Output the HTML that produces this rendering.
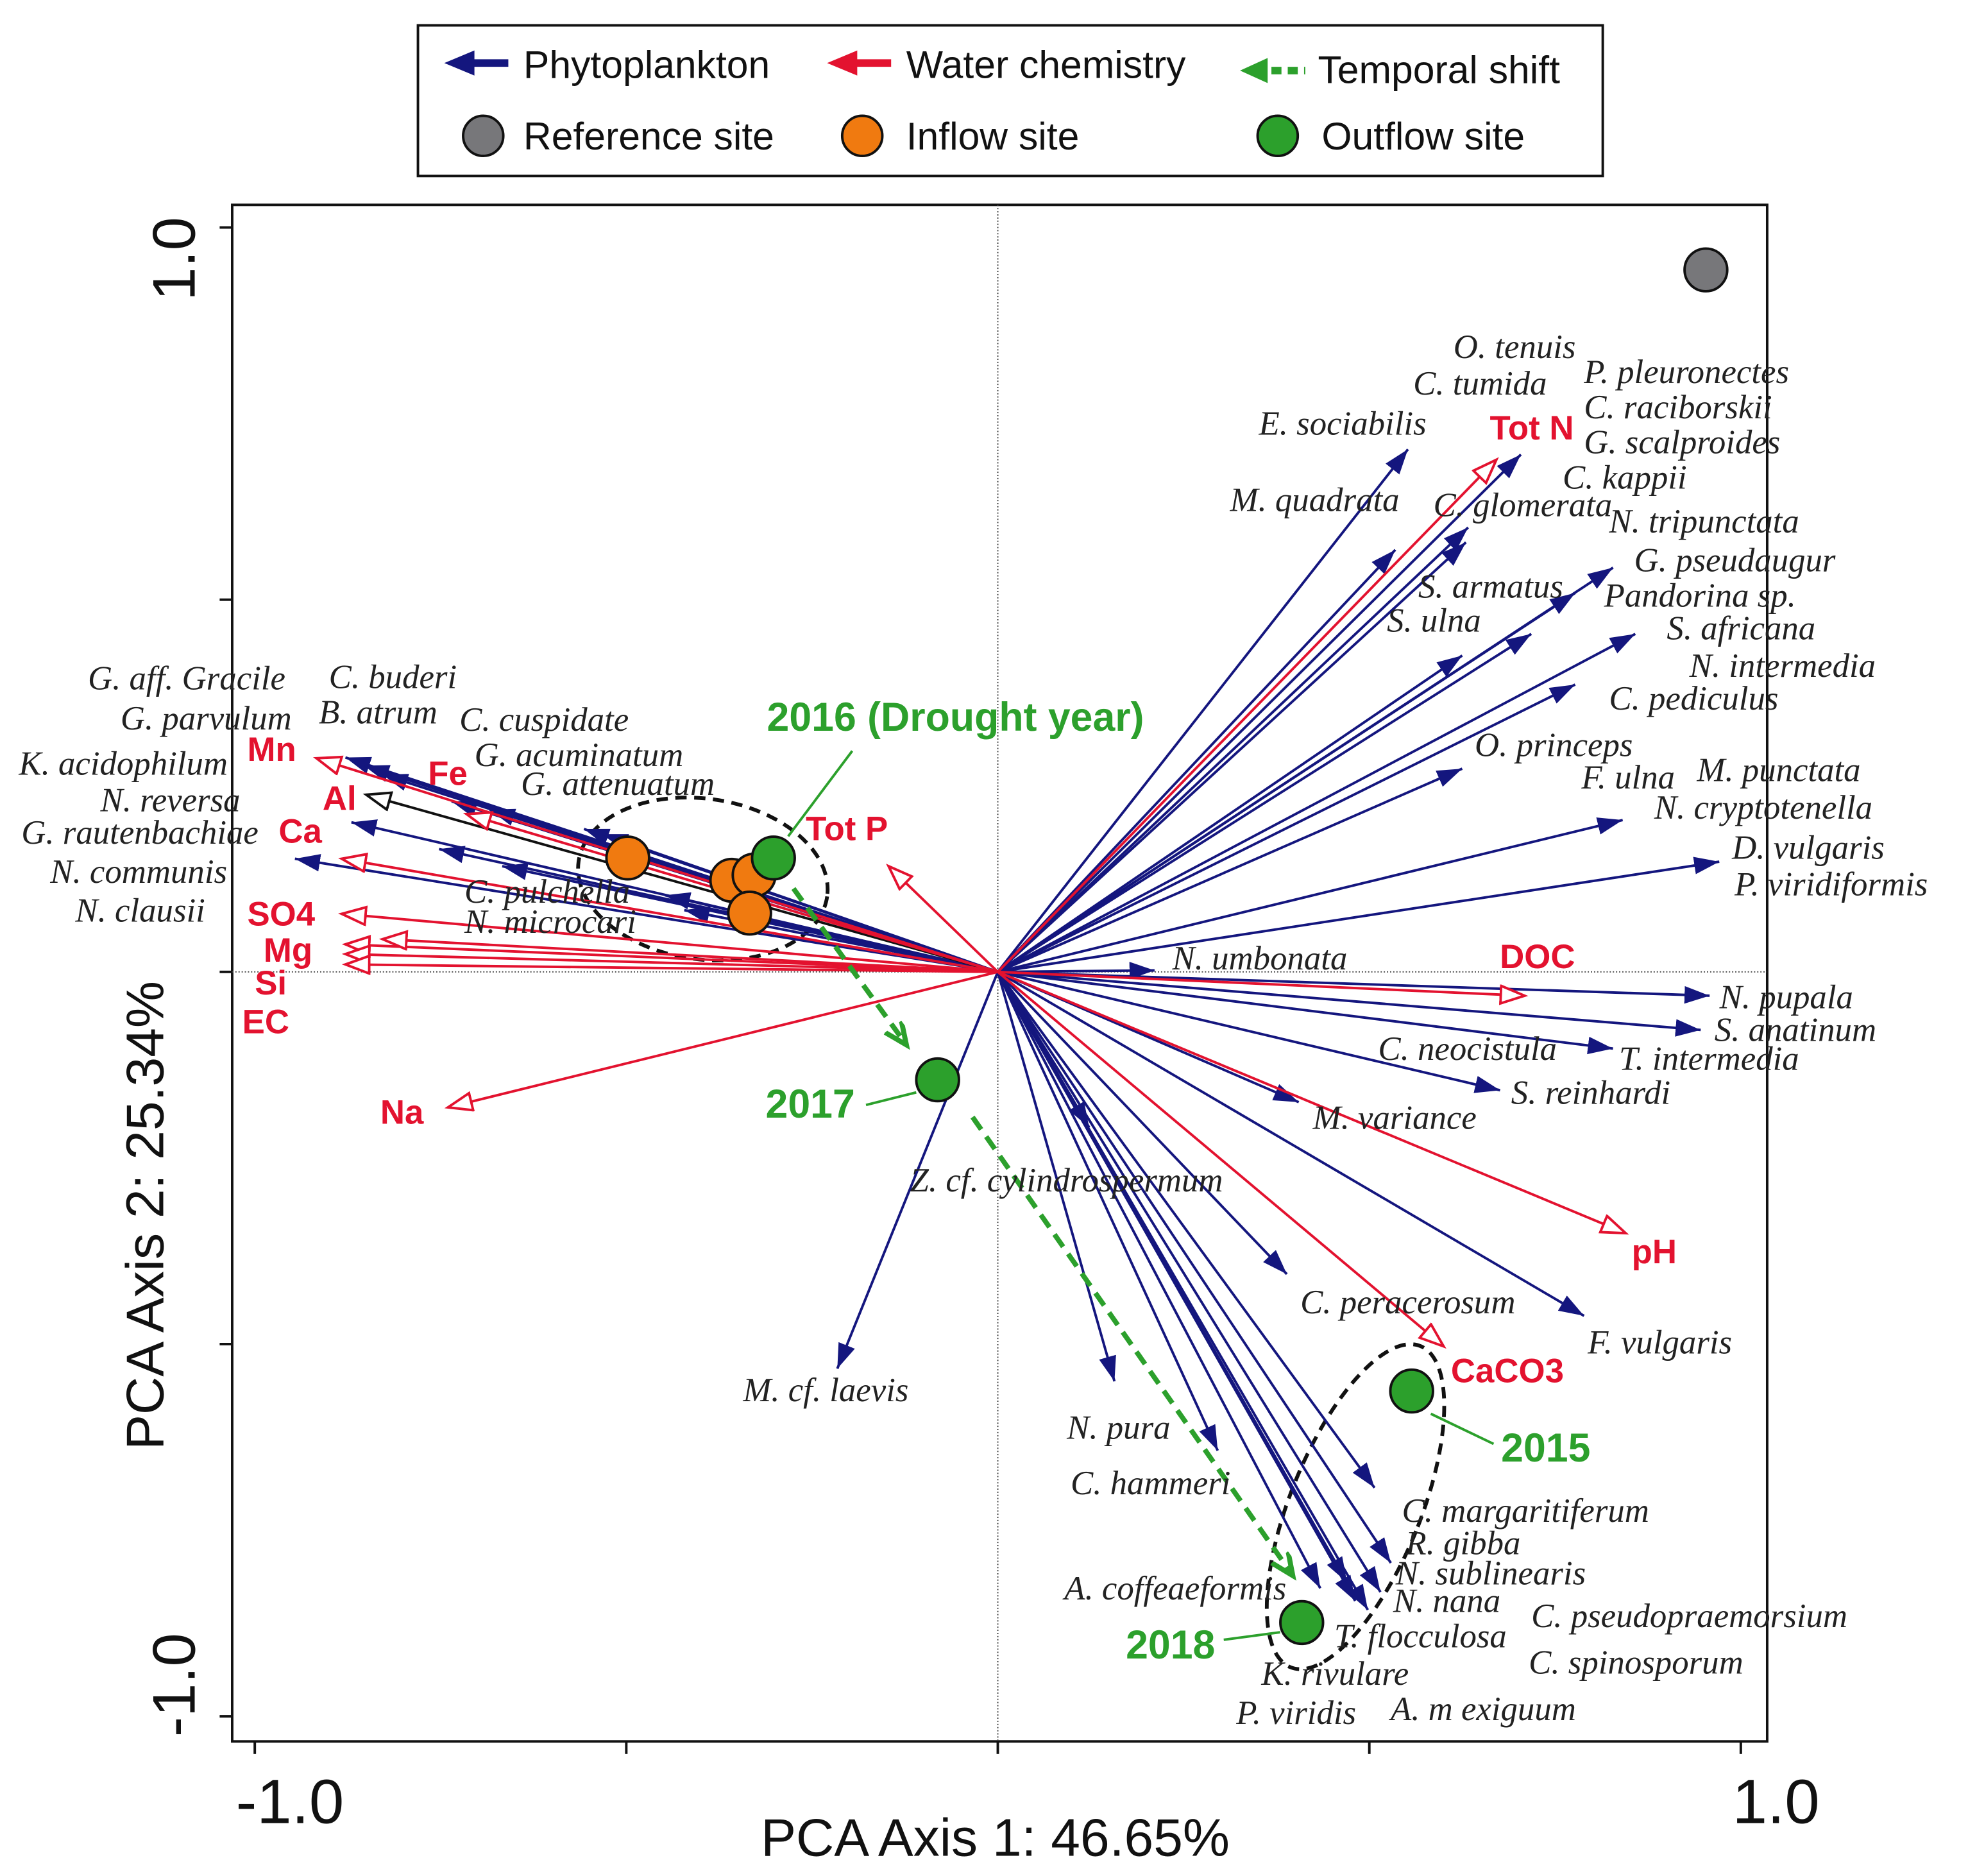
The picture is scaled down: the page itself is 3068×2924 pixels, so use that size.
<!DOCTYPE html>
<html><head><meta charset="utf-8"><style>
html,body{margin:0;padding:0;background:#fff}
svg{display:block}
.sp{font-family:"Liberation Serif",serif;font-style:italic;font-size:27px;fill:#222}
.env{font-family:"Liberation Sans",sans-serif;font-weight:bold;font-size:27px;fill:#e3122f}
.yr{font-family:"Liberation Sans",sans-serif;font-weight:bold;font-size:32px;fill:#2ca02c}
.lg{font-family:"Liberation Sans",sans-serif;font-size:31px;fill:#111}
</style></head><body>
<svg id="chart" width="3068" height="2924" viewBox="0 0 1568 1494" xmlns="http://www.w3.org/2000/svg">
<defs>
<marker id="mb" markerUnits="userSpaceOnUse" markerWidth="22" markerHeight="16" refX="20" refY="7" orient="auto"><path d="M0,0 L20,7 L0,14 Z" fill="#14167e"/></marker>
<marker id="mr" markerUnits="userSpaceOnUse" markerWidth="24" markerHeight="18" refX="20" refY="8" orient="auto"><path d="M1,1 L20,8 L1,15 Z" fill="#fff" stroke="#e3122f" stroke-width="2"/></marker>
<marker id="mk" markerUnits="userSpaceOnUse" markerWidth="24" markerHeight="18" refX="20" refY="8" orient="auto"><path d="M1,1 L20,8 L1,15 Z" fill="#fff" stroke="#111" stroke-width="2"/></marker>
<marker id="mg" markerUnits="userSpaceOnUse" markerWidth="24" markerHeight="18" refX="18" refY="8" orient="auto"><path d="M0,0 L18,8 L0,16" fill="none" stroke="#2ca02c" stroke-width="4"/></marker>
</defs>
<g>
<rect x="333" y="20" width="944" height="120" fill="#fff" stroke="#111" stroke-width="2"/>
<line x1="405" y1="50" x2="370" y2="50" stroke="#14167e" stroke-width="6"/>
<path d="M354,50 L378,40 L378,60 Z" fill="#14167e"/>
<text class="lg" x="417" y="62">Phytoplankton</text>
<line x1="710" y1="50" x2="675" y2="50" stroke="#e3122f" stroke-width="6"/>
<path d="M659,50 L683,40 L683,60 Z" fill="#e3122f"/>
<text class="lg" x="722" y="62">Water chemistry</text>
<line x1="1000" y1="56" x2="1040" y2="56" stroke="#2ca02c" stroke-width="6" stroke-dasharray="8,5"/>
<path d="M988,56 L1010,46 L1010,66 Z" fill="#2ca02c"/>
<text class="lg" x="1050" y="66">Temporal shift</text>
<circle cx="385" cy="108" r="16" fill="#77777a" stroke="#111" stroke-width="2"/>
<text class="lg" x="417" y="119">Reference site</text>
<circle cx="687" cy="108" r="16" fill="#f07a10" stroke="#111" stroke-width="2"/>
<text class="lg" x="722" y="119">Inflow site</text>
<circle cx="1018" cy="108" r="16" fill="#2ca02c" stroke="#111" stroke-width="2"/>
<text class="lg" x="1053" y="119">Outflow site</text>
</g>
<rect x="185" y="163" width="1223" height="1224" fill="none" stroke="#111" stroke-width="2"/>
<g id="axes"></g>
<g id="marks"></g>
<g id="labels"></g>
<text class="lg" x="793" y="1478" text-anchor="middle" style="font-size:42px">PCA Axis 1: 46.65%</text>
<text class="lg" transform="translate(130,968) rotate(-90)" text-anchor="middle" style="font-size:42px">PCA Axis 2: 25.34%</text>
</svg>
<script>
const xTicks=[-1,-0.5,0,0.5,1];
const yTicks=[-1,-0.5,0,0.5,1];
const tickLabels=["-1.0","1.0"];
const phytoX=[-0.878,-0.853,-0.828,-0.735,-0.684,-0.557,-0.532,-0.870,-0.752,-0.946,-0.667,-0.448,-0.422,0.552,0.535,0.704,0.633,0.630,0.828,0.777,0.718,0.625,0.858,0.777,0.625,0.841,0.971,0.211,0.958,0.946,0.828,0.676,0.405,0.389,0.789,-0.216,0.157,0.296,0.434,0.481,0.498,0.515,0.529,0.507,0.470,0.123];
const phytoY=[0.288,0.277,0.265,0.229,0.218,0.192,0.185,0.201,0.165,0.152,0.142,0.103,0.083,0.702,0.567,0.695,0.597,0.577,0.543,0.509,0.454,0.425,0.454,0.386,0.273,0.204,0.148,0.002,-0.032,-0.078,-0.103,-0.159,-0.175,-0.406,-0.462,-0.533,-0.550,-0.643,-0.828,-0.845,-0.857,-0.833,-0.794,-0.693,-0.820,-0.209];
const envNames=["Mn","Fe","Ca","SO4","Mg","Mg2","Si","EC","Na","Tot P","Tot N","DOC","pH","CaCO3"];
const envX=[-0.917,-0.715,-0.883,-0.883,-0.878,-0.828,-0.878,-0.878,-0.740,-0.147,0.671,0.709,0.845,0.600];
const envY=[0.287,0.212,0.152,0.078,0.037,0.044,0.024,0.010,-0.182,0.142,0.688,-0.032,-0.351,-0.503];
const alX=[-0.850], alY=[0.238];
const siteType=["reference","inflow","inflow","inflow","inflow","outflow","outflow","outflow","outflow"];
const siteX=[0.953,-0.498,-0.358,-0.328,-0.334,-0.302,-0.081,0.557,0.409];
const siteY=[0.943,0.153,0.123,0.130,0.079,0.153,-0.145,-0.563,-0.874];
const shiftFromX=[-0.275,-0.034], shiftFromY=[0.112,-0.195];
const shiftToX=[-0.123,0.397], shiftToY=[-0.098,-0.811];

const NS="http://www.w3.org/2000/svg";
const X=v=>795+v*592, Y=v=>774-v*593;
function mk(tag,attrs,parent){const e=document.createElementNS(NS,tag);for(const k in attrs)e.setAttribute(k,attrs[k]);parent.appendChild(e);return e;}
const axes=document.getElementById('axes'),marks=document.getElementById('marks'),labels=document.getElementById('labels');

let l=mk('line',{x1:X(0),y1:163,x2:X(0),y2:1387,stroke:'#444','stroke-width':1,'stroke-dasharray':'1,1.5'},axes);


l=mk('line',{x1:185,y1:Y(0),x2:1408,y2:Y(0),stroke:'#444','stroke-width':1,'stroke-dasharray':'1,1.5'},axes);


xTicks.forEach(t=>{const e=mk('line',{x1:X(t),y1:1387,x2:X(t),y2:1397,stroke:'#111','stroke-width':2},axes);

});
yTicks.forEach(t=>{const e=mk('line',{x1:175,y1:Y(t),x2:185,y2:Y(t),stroke:'#111','stroke-width':2},axes);

});
[[-1,tickLabels[0]],[1,tickLabels[1]]].forEach(([v,s])=>{
 const t=mk('text',{x:X(v)+28,y:1452,'text-anchor':'middle',class:'lg',style:'font-size:50px'},axes);t.textContent=s;
 
 
 const u=mk('text',{transform:`translate(155,${Y(v)-(v>0?-25:25)}) rotate(-90)`,'text-anchor':'middle',class:'lg',style:'font-size:48px'},axes);u.textContent=s;
 
 
});

let el=mk('ellipse',{cx:560,cy:700,rx:100,ry:64,transform:'rotate(8 560 700)',fill:'none',stroke:'#111','stroke-width':3,'stroke-dasharray':'9,6'},marks);


el=mk('ellipse',{cx:1080,cy:1200,rx:52,ry:138,transform:'rotate(22 1080 1200)',fill:'none',stroke:'#111','stroke-width':3,'stroke-dasharray':'9,6'},marks);



phytoX.forEach((v,i)=>{const e=mk('line',{x1:X(0),y1:Y(0),x2:X(v),y2:Y(phytoY[i]),stroke:'#14167e','stroke-width':2,'marker-end':'url(#mb)'},marks);

});
alX.forEach((v,i)=>{const e=mk('line',{x1:X(0),y1:Y(0),x2:X(v),y2:Y(alY[i]),stroke:'#111','stroke-width':2,'marker-end':'url(#mk)'},marks);

});
envX.forEach((v,i)=>{const e=mk('line',{x1:X(0),y1:Y(0),x2:X(v),y2:Y(envY[i]),stroke:'#e3122f','stroke-width':2,'marker-end':'url(#mr)'},marks);

});
shiftFromX.forEach((v,i)=>{const e=mk('line',{x1:X(v),y1:Y(shiftFromY[i]),x2:X(shiftToX[i]),y2:Y(shiftToY[i]),stroke:'#2ca02c','stroke-width':4,'stroke-dasharray':'12,7','marker-end':'url(#mg)'},marks);

});
[[679,598,628,666],[690,880,730,870],[1140,1126,1190,1150],[975,1306,1020,1300]].forEach(p=>{const e=mk('line',{x1:p[0],y1:p[1],x2:p[2],y2:p[3],stroke:'#2ca02c','stroke-width':2},marks);

});
const fills={reference:'#77777a',inflow:'#f07a10',outflow:'#2ca02c'};
siteX.forEach((v,i)=>{const e=mk('circle',{cx:X(v),cy:Y(siteY[i]),r:17,fill:fills[siteType[i]],stroke:'#111','stroke-width':2},marks);

});

const sp=[["G. aff. Gracile",70,549],["C. buderi",262,548],["G. parvulum",96,581],["B. atrum",254,576],["C. cuspidate",366,582],["K. acidophilum",15,617],["G. acuminatum",378,610],["G. attenuatum",415,633],["N. reversa",80,646],["G. rautenbachiae",17,672],["N. communis",40,703],["C. pulchella",370,719],["N. microcari",370,743],["N. clausii",60,734],
["O. tenuis",1158,285],["C. tumida",1126,314],["P. pleuronectes",1262,305],["C. raciborskii",1262,333],["E. sociabilis",1003,346],["G. scalproides",1262,361],["C. kappii",1245,389],["M. quadrata",980,407],["C. glomerata",1142,411],["N. tripunctata",1282,424],["G. pseudaugur",1302,455],["S. armatus",1130,476],["Pandorina sp.",1278,483],["S. ulna",1105,503],["S. africana",1328,509],["N. intermedia",1346,539],["C. pediculus",1282,565],["O. princeps",1175,602],["M. punctata",1352,622],["F. ulna",1260,628],["N. cryptotenella",1318,652],["D. vulgaris",1380,684],["P. viridiformis",1382,713],["N. umbonata",934,772],["N. pupala",1370,803],["S. anatinum",1366,829],["C. neocistula",1098,844],["T. intermedia",1290,852],["S. reinhardi",1204,879],["M. variance",1046,899],["Z. cf. cylindrospermum",725,949],["C. peracerosum",1036,1046],["F. vulgaris",1265,1078],["M. cf. laevis",592,1116],["N. pura",850,1146],["C. hammeri",853,1190],["C. margaritiferum",1117,1212],["R. gibba",1120,1238],["N. sublinearis",1112,1262],["A. coffeaeformis",848,1274],["N. nana",1110,1284],["C. pseudopraemorsium",1220,1296],["T. flocculosa",1063,1312],["C. spinosporum",1218,1333],["K. rivulare",1005,1342],["P. viridis",985,1373],["A. m exiguum",1108,1370]];
sp.forEach(s=>{const t=mk('text',{x:s[1],y:s[2],class:'sp'},labels);t.textContent=s[0];

});
const env=[["Mn",197,606],["Fe",341,625],["Al",257,645],["Ca",222,671],["SO4",197,737],["Mg",210,766],["Si",203,792],["EC",193,823],["Na",303,895],["Tot P",642,669],["Tot N",1187,350],["DOC",1195,771],["pH",1300,1006],["CaCO3",1156,1101]];
env.forEach(s=>{const t=mk('text',{x:s[1],y:s[2],class:'env'},labels);t.textContent=s[0];

});
const yrs=[["2016 (Drought year)",611,582],["2017",610,890],["2015",1196,1164],["2018",897,1321]];
yrs.forEach(s=>{const t=mk('text',{x:s[1],y:s[2],class:'yr'},labels);t.textContent=s[0];

});
</script>
</body></html>
